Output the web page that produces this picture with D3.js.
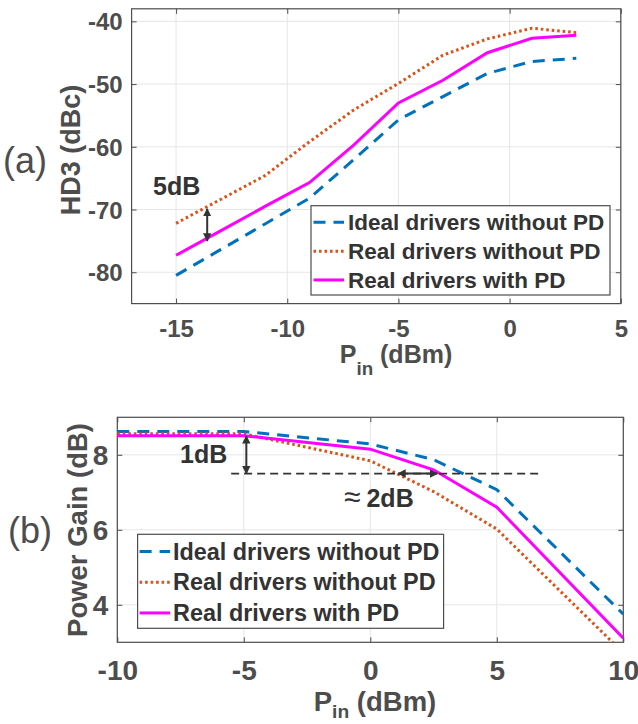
<!DOCTYPE html>
<html>
<head>
<meta charset="utf-8">
<script src="https://cdn.jsdelivr.net/npm/d3@7"></script>
<style>
html,body{margin:0;padding:0;background:#fff;}
svg text{font-family:"Liberation Sans",Arial,Helvetica,sans-serif;}
</style>
</head>
<body>
<svg id="chart" width="638" height="724"></svg>
<script>
// ---------- Data ----------
const seriesNames = ["Ideal drivers without PD", "Real drivers without PD", "Real drivers with PD"];
const seriesColors = ["#0072BD", "#D95319", "#FF00FF"];

// (a) HD3 vs Pin
const hdX = [-15, -13, -11, -9, -7, -5, -3, -1, 1, 3];
const hdIdeal = [-80.5, -76.4, -72.3, -68.2, -62.0, -55.7, -52.0, -48.3, -46.4, -45.9];
const hdRealNoPD = [-72.2, -68.4, -64.6, -59.2, -54.1, -49.9, -45.4, -42.8, -41.1, -41.8];
const hdRealPD = [-77.3, -73.4, -69.5, -65.7, -59.7, -53.0, -49.4, -45.0, -42.7, -42.2];
const hdXTicks = [-15, -10, -5, 0, 5];
const hdYTicks = [-80, -70, -60, -50, -40];

// (b) Power gain vs Pin
const gainX = [-10, -5, 0, 2.5, 5, 10];
const gainIdeal = [8.62, 8.62, 8.29, 7.87, 7.07, 3.75];
const gainRealNoPD = [8.56, 8.56, 7.84, 7.02, 6.02, 2.72];
const gainRealPD = [8.51, 8.51, 8.15, 7.6, 6.6, 3.11];
const gainXTicks = [-10, -5, 0, 5, 10];
const gainYTicks = [4, 6, 8];

// ---------- Drawing ----------
const svg = d3.select("#chart");
const AX = "#4d4d4d", ANN = "#333333";
const dashes = ["12,8", "2.6,2.9", null];
const fmt = d => String(d);

const defs = svg.append("defs");
defs.append("marker").attr("id", "ah").attr("viewBox", "0 0 10 10")
  .attr("refX", 9).attr("refY", 5).attr("markerWidth", 4.2).attr("markerHeight", 4.2)
  .attr("orient", "auto-start-reverse")
  .append("path").attr("d", "M0,0 L10,5 L0,10 Z").attr("fill", ANN);

function panel(cfg) {
  const x = d3.scaleLinear().domain(cfg.xDomain).range(cfg.xRange);
  const y = d3.scaleLinear().domain(cfg.yDomain).range(cfg.yRange);
  const g = svg.append("g");
  const [x0, x1] = cfg.xRange, [y1, y0] = cfg.yRange;
  // grid
  g.append("g").selectAll("line").data(cfg.xTicks).join("line")
    .attr("x1", d => x(d)).attr("x2", d => x(d)).attr("y1", y0).attr("y2", y1)
    .attr("stroke", "#e6e6e6").attr("stroke-width", 1);
  g.append("g").selectAll("line").data(cfg.yTicks).join("line")
    .attr("y1", d => y(d)).attr("y2", d => y(d)).attr("x1", x0).attr("x2", x1)
    .attr("stroke", "#e6e6e6").attr("stroke-width", 1);

  // clip
  const cid = "clip" + cfg.id;
  defs.append("clipPath").attr("id", cid).append("rect")
    .attr("x", x0).attr("y", y0).attr("width", x1 - x0).attr("height", y1 - y0);

  // axes via d3 axis (inward ticks)
  const tl = 5;
  const bottom = g.append("g").attr("transform", `translate(0,${y1})`)
    .call(d3.axisBottom(x).tickValues(cfg.xTicks).tickSizeInner(-tl).tickSizeOuter(0).tickPadding(cfg.xPad).tickFormat(fmt));
  const top = g.append("g").attr("transform", `translate(0,${y0})`)
    .call(d3.axisTop(x).tickValues(cfg.xTicks).tickSizeInner(-tl).tickSizeOuter(0).tickFormat(""));
  const left = g.append("g").attr("transform", `translate(${x0},0)`)
    .call(d3.axisLeft(y).tickValues(cfg.yTicks).tickSizeInner(-tl).tickSizeOuter(0).tickPadding(cfg.yPad).tickFormat(fmt));
  const right = g.append("g").attr("transform", `translate(${x1},0)`)
    .call(d3.axisRight(y).tickValues(cfg.yTicks).tickSizeInner(-tl).tickSizeOuter(0).tickFormat(""));
  [bottom, top, left, right].forEach(a => {
    a.select(".domain").remove();
    a.selectAll(".tick line").attr("stroke", AX).attr("stroke-width", 1);
    a.selectAll("text").attr("fill", AX).attr("font-weight", "bold").attr("font-size", cfg.tickFont)
      .attr("font-family", "'Liberation Sans',Arial,sans-serif");
  });
  bottom.selectAll("text").attr("dy", null).attr("y", cfg.xTickBase - y1);
  left.selectAll("text").attr("dy", "0.36em");
  // frame
  g.append("rect").attr("x", x0).attr("y", y0).attr("width", x1 - x0).attr("height", y1 - y0)
    .attr("fill", "none").attr("stroke", AX).attr("stroke-width", 1.2);

  // lines
  const lg = g.append("g").attr("clip-path", `url(#${cid})`);
  cfg.series.forEach((vals, i) => {
    const line = d3.line().x((d, k) => x(cfg.xs[k])).y(d => y(d));
    lg.append("path").datum(vals).attr("d", line).attr("fill", "none")
      .attr("stroke", seriesColors[i]).attr("stroke-width", 3)
      .attr("stroke-dasharray", dashes[i]).attr("stroke-linejoin", "miter");
  });

  // axis labels
  const xl = g.append("text").attr("x", cfg.xLabel[0]).attr("y", cfg.xLabel[1])
    .attr("fill", AX).attr("font-weight", "bold").attr("font-size", cfg.labelFont).attr("text-anchor", "middle");
  xl.append("tspan").text("P");
  xl.append("tspan").text("in").attr("font-size", cfg.labelFont * cfg.subScale).attr("dy", cfg.subDy);
  xl.append("tspan").text(" (dBm)").attr("dy", -cfg.subDy);
  g.append("text").attr("transform", `translate(${cfg.yLabel[0]},${cfg.yLabel[1]}) rotate(-90)`)
    .attr("text-anchor", "middle").attr("fill", AX).attr("font-weight", "bold")
    .attr("font-size", cfg.yLabelFont).text(cfg.yLabelText);
  // panel tag
  g.append("text").attr("x", cfg.tag[0]).attr("y", cfg.tag[1]).attr("fill", AX)
    .attr("font-size", cfg.tagFont).text(cfg.tagText);

  // legend
  const L = cfg.legend;
  const lgd = g.append("g");
  lgd.append("rect").attr("x", L.x).attr("y", L.y).attr("width", L.w).attr("height", L.h)
    .attr("fill", "#fff").attr("stroke", AX).attr("stroke-width", 1.2);
  seriesNames.forEach((n, i) => {
    const by = L.base0 + i * L.step;
    lgd.append("line").attr("x1", L.lx0).attr("x2", L.lx1).attr("y1", by - L.font * 0.34).attr("y2", by - L.font * 0.34)
      .attr("stroke", seriesColors[i]).attr("stroke-width", 3).attr("stroke-dasharray", dashes[i]);
    lgd.append("text").attr("x", L.tx).attr("y", by).attr("fill", ANN).attr("font-weight", "bold")
      .attr("font-size", L.font).text(n);
  });
  return {x, y, g};
}

// (a)
const A = panel({
  id: "a", xDomain: [-17, 5], xRange: [131.6, 620.8], yDomain: [-85, -38], yRange: [303.6, 8.8],
  xTicks: hdXTicks, yTicks: hdYTicks, xs: hdX, series: [hdIdeal, hdRealNoPD, hdRealPD],
  tickFont: 24, xPad: 10, yPad: 9, xTickBase: 337, labelFont: 25, subDy: 12, subScale: 0.75,
  xLabel: [396, 363], yLabel: [80, 150], yLabelFont: 27, yLabelText: "HD3 (dBc)",
  tag: [3, 173], tagFont: 36, tagText: "(a)",
  legend: {x: 311, y: 205.7, w: 299, h: 89.3, base0: 230, step: 28.8, lx0: 313.5, lx1: 344, tx: 348, font: 22.5}
});
// 5dB annotation
A.g.append("text").attr("x", 153).attr("y", 195).attr("fill", ANN).attr("font-weight", "bold")
  .attr("font-size", 25).text("5dB");
A.g.append("line").attr("x1", A.x(-13.6)).attr("x2", A.x(-13.6)).attr("y1", A.y(-69.9)).attr("y2", A.y(-75.0))
  .attr("stroke", ANN).attr("stroke-width", 2).attr("marker-start", "url(#ah)").attr("marker-end", "url(#ah)");

// (b)
const B = panel({
  id: "b", xDomain: [-10, 10], xRange: [117.3, 623.3], yDomain: [3, 9], yRange: [642.3, 417.3],
  xTicks: gainXTicks, yTicks: gainYTicks, xs: gainX, series: [gainIdeal, gainRealNoPD, gainRealPD],
  tickFont: 28, xPad: 10, yPad: 9, xTickBase: 680, labelFont: 27.5, subDy: 7, subScale: 0.7,
  xLabel: [375, 711], yLabel: [87, 530], yLabelFont: 27.5, yLabelText: "Power Gain (dB)",
  tag: [8, 543], tagFont: 36, tagText: "(b)",
  legend: {x: 137.6, y: 534.3, w: 306, h: 94, base0: 559.5, step: 30.7, lx0: 139.6, lx1: 170, tx: 173, font: 23.4}
});
// dashed reference line at 7.5 dB
B.g.append("line").attr("x1", B.x(-5.5)).attr("x2", B.x(6.8)).attr("y1", B.y(7.5)).attr("y2", B.y(7.5))
  .attr("stroke", ANN).attr("stroke-width", 1.8).attr("stroke-dasharray", "8,5");
B.g.append("line").attr("x1", B.x(-4.9)).attr("x2", B.x(-4.9)).attr("y1", B.y(8.5)).attr("y2", B.y(7.5))
  .attr("stroke", ANN).attr("stroke-width", 2).attr("marker-start", "url(#ah)").attr("marker-end", "url(#ah)");
B.g.append("line").attr("x1", B.x(1.1)).attr("x2", B.x(2.65)).attr("y1", B.y(7.5)).attr("y2", B.y(7.5))
  .attr("stroke", ANN).attr("stroke-width", 2).attr("marker-start", "url(#ah)").attr("marker-end", "url(#ah)");
B.g.append("text").attr("x", 180).attr("y", 463).attr("fill", ANN).attr("font-weight", "bold")
  .attr("font-size", 25).text("1dB");
const t2 = B.g.append("text").attr("x", 344).attr("y", 507).attr("fill", ANN).attr("font-size", 25);
t2.append("tspan").text("\u2248").attr("font-size", 30);
t2.append("tspan").attr("font-weight", "bold").attr("dx", 6).text("2dB");
</script>
</body>
</html>
